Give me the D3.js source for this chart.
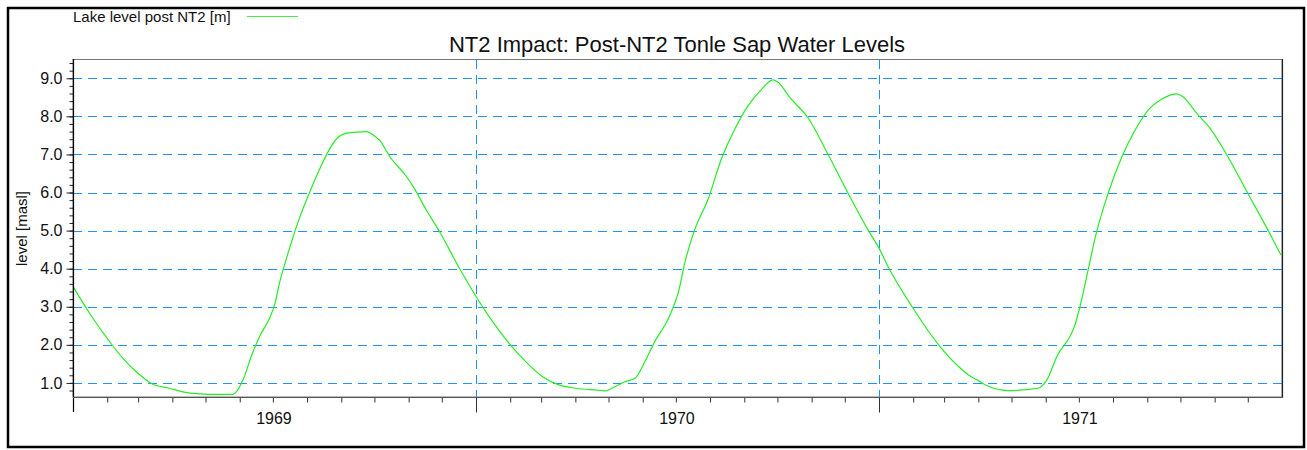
<!DOCTYPE html>
<html>
<head>
<meta charset="utf-8">
<script src="https://cdn.jsdelivr.net/npm/d3@7"></script>
<style>
  html, body { margin: 0; padding: 0; background: #fff; }
  svg { display: block; font-family: Arial, "Liberation Sans", sans-serif; }
</style>
</head>
<body>
<svg id="chart" width="1307" height="450"></svg>
<script>
// Tonle Sap lake level after NT2, sampled along the hydrograph
const dates = [
  "1969-01-01","1969-01-16","1969-02-03","1969-02-15","1969-02-27","1969-03-14","1969-03-29",
  "1969-04-17","1969-05-05","1969-05-26","1969-05-29","1969-06-04","1969-06-12","1969-06-19",
  "1969-06-28","1969-07-03","1969-07-07","1969-07-12","1969-07-18","1969-07-25","1969-08-03",
  "1969-08-12","1969-08-21","1969-08-29","1969-09-06","1969-09-24","1969-09-30","1969-10-06",
  "1969-10-15","1969-10-30","1969-11-05","1969-11-17","1969-11-29","1969-12-17","1970-01-01",
  "1970-01-16","1970-01-31","1970-02-15","1970-03-02","1970-03-17","1970-04-01","1970-04-25",
  "1970-04-28","1970-05-04","1970-05-16","1970-05-25","1970-06-03","1970-06-12","1970-06-24",
  "1970-06-30","1970-07-03","1970-07-09","1970-07-18","1970-07-30","1970-08-11","1970-08-23",
  "1970-09-04","1970-09-16","1970-09-27","1970-10-01","1970-10-13","1970-10-29","1970-11-16",
  "1970-12-04","1970-12-22","1971-01-01","1971-01-10","1971-01-31","1971-02-24","1971-03-14",
  "1971-03-23","1971-04-01","1971-04-07","1971-04-28","1971-05-25","1971-06-02","1971-06-11",
  "1971-06-28","1971-07-02","1971-07-10","1971-07-16","1971-07-28","1971-08-09","1971-08-21",
  "1971-09-02","1971-09-14","1971-09-28","1971-10-02","1971-10-17","1971-10-29","1971-11-13",
  "1971-12-01","1971-12-16","1971-12-31"
];
const levels = [
  3.53, 2.83, 2.09, 1.65, 1.30, 0.97, 0.86,
  0.73, 0.70, 0.70, 0.77, 1.08, 1.74, 2.22,
  2.70, 3.09, 3.62, 4.14, 4.71, 5.32, 5.98,
  6.59, 7.12, 7.45, 7.56, 7.60, 7.51, 7.36,
  6.94, 6.42, 6.16, 5.54, 4.97, 4.01, 3.27,
  2.61, 2.04, 1.56, 1.17, 0.95, 0.86, 0.80,
  0.79, 0.86, 1.03, 1.12, 1.56, 2.09, 2.67,
  3.09, 3.35, 4.14, 5.02, 5.81, 6.86, 7.64,
  8.26, 8.69, 8.96, 8.91, 8.47, 7.95, 6.99,
  5.98, 5.02, 4.54, 4.01, 3.00, 2.00, 1.43,
  1.21, 1.06, 0.95, 0.80, 0.86, 1.08, 1.69,
  2.57, 3.00, 4.05, 4.84, 6.02, 6.94, 7.64,
  8.17, 8.45, 8.59, 8.54, 8.04, 7.64, 6.94,
  5.98, 5.19, 4.36
];
const yearLabels = ["1969", "1970", "1971"];
const yTickValues = [1, 2, 3, 4, 5, 6, 7, 8, 9];

const title = "NT2 Impact: Post-NT2 Tonle Sap Water Levels";
const seriesName = "Lake level post NT2 [m]";
const yTitle = "level [masl]";

const parseDate = d3.utcParse("%Y-%m-%d");
const series = dates.map((d, i) => ({ date: parseDate(d), value: levels[i] }));

const svg = d3.select("#chart");
const plot = { left: 73, top: 60, right: 1282, bottom: 397 };
const fontFamily = "Arial, 'Liberation Sans', sans-serif";

const x = d3.scaleUtc()
  .domain([Date.UTC(1969, 0, 1), Date.UTC(1972, 0, 1)])
  .range([plot.left, plot.right]);
const y = d3.scaleLinear()
  .domain([0.63, 9.48])
  .range([plot.bottom, plot.top]);

const gridBlue = "#1e90ff";

// outer frame
svg.append("rect")
  .attr("x", 8).attr("y", 8)
  .attr("width", 1296).attr("height", 439)
  .attr("fill", "none").attr("stroke", "#000").attr("stroke-width", 2.5);

// legend
svg.append("text")
  .attr("x", 73).attr("y", 22)
  .attr("font-size", 15).attr("fill", "#111")
  .text(seriesName);
svg.append("line")
  .attr("x1", 247).attr("x2", 298).attr("y1", 16.5).attr("y2", 16.5)
  .attr("stroke", "#44ee44").attr("stroke-width", 1.2);

// title
svg.append("text")
  .attr("x", 677).attr("y", 52)
  .attr("text-anchor", "middle").attr("font-size", 22).attr("fill", "#111")
  .text(title);

// plot border (top in grey)
svg.append("rect")
  .attr("x", plot.left).attr("y", plot.top - 0.5)
  .attr("width", plot.right - plot.left).attr("height", plot.bottom - plot.top + 0.5)
  .attr("fill", "#fff").attr("stroke", "#777").attr("stroke-width", 1);

// horizontal gridlines
svg.append("g").attr("shape-rendering", "crispEdges").selectAll("line")
  .data(yTickValues)
  .join("line")
  .attr("x1", plot.left).attr("x2", plot.right)
  .attr("y1", d => Math.round(y(d)) + 0.5).attr("y2", d => Math.round(y(d)) + 0.5)
  .attr("stroke", gridBlue).attr("stroke-width", 1)
  .attr("stroke-dasharray", "9,6");

// vertical gridlines at year boundaries
const yearStarts = [Date.UTC(1970, 0, 1), Date.UTC(1971, 0, 1)];
svg.append("g").attr("shape-rendering", "crispEdges").selectAll("line")
  .data(yearStarts)
  .join("line")
  .attr("x1", d => Math.round(x(d)) + 0.5).attr("x2", d => Math.round(x(d)) + 0.5)
  .attr("y1", plot.top).attr("y2", plot.bottom)
  .attr("stroke", gridBlue).attr("stroke-width", 1)
  .attr("stroke-dasharray", "9,6");

// level line
const line = d3.line()
  .x(d => x(d.date))
  .y(d => y(d.value))
  .curve(d3.curveMonotoneX);
svg.append("path")
  .datum(series)
  .attr("d", line)
  .attr("fill", "none")
  .attr("stroke", "#22ee22")
  .attr("stroke-width", 1.2);

// right border over the data
svg.append("line")
  .attr("x1", plot.right + 0.5).attr("x2", plot.right + 0.5)
  .attr("y1", plot.top - 1).attr("y2", plot.bottom + 1)
  .attr("stroke", "#222").attr("stroke-width", 1.2);

// y axis: minor ticks every 0.2, labelled major ticks every 1.0
const yMinor = d3.range(0.8, 9.5, 0.2).filter(v => v >= y.domain()[0] && v <= y.domain()[1]);
const yAxisMinor = d3.axisLeft(y).tickValues(yMinor).tickSize(4).tickFormat("");
const yAxisMajor = d3.axisLeft(y).tickValues(yTickValues).tickSize(7).tickPadding(4)
  .tickFormat(d3.format(".1f"));
const gyMinor = svg.append("g").attr("transform", `translate(${plot.left + 0.5},0)`).call(yAxisMinor);
const gyMajor = svg.append("g").attr("transform", `translate(${plot.left + 0.5},0)`).call(yAxisMajor);
[gyMinor, gyMajor].forEach(g => {
  g.attr("font-family", fontFamily);
  g.select(".domain").remove();
  g.selectAll(".tick line").attr("stroke", "#222");
});
gyMajor.attr("font-size", 16);
gyMajor.selectAll(".tick text").attr("fill", "#111");
svg.append("line")
  .attr("x1", plot.left + 0.5).attr("x2", plot.left + 0.5)
  .attr("y1", plot.top - 1).attr("y2", plot.bottom + 15)
  .attr("stroke", "#000").attr("stroke-width", 1.2);

// x axis: monthly minor ticks, longer ticks at year boundaries
const monthTicks = d3.utcMonth.range(Date.UTC(1969, 1, 1), Date.UTC(1972, 0, 1))
  .filter(d => d.getUTCMonth() !== 0);
const xAxisMinor = d3.axisBottom(x).tickValues(monthTicks).tickSize(5).tickFormat("");
const xAxisMajor = d3.axisBottom(x).tickValues(yearStarts).tickSize(15).tickFormat("");
const gxMinor = svg.append("g").attr("transform", `translate(0,${plot.bottom + 0.5})`).call(xAxisMinor);
const gxMajor = svg.append("g").attr("transform", `translate(0,${plot.bottom + 0.5})`).call(xAxisMajor);
[gxMinor, gxMajor].forEach(g => {
  g.select(".domain").remove();
  g.selectAll(".tick line").attr("stroke", "#333");
});
svg.append("line")
  .attr("x1", plot.left).attr("x2", plot.right + 1)
  .attr("y1", plot.bottom + 0.5).attr("y2", plot.bottom + 0.5)
  .attr("stroke", "#555").attr("stroke-width", 1.2);

// year labels centred within each year
svg.append("g").selectAll("text")
  .data(yearLabels)
  .join("text")
  .attr("x", d => x(Date.UTC(+d, 6, 2)))
  .attr("y", 424)
  .attr("text-anchor", "middle")
  .attr("font-size", 16).attr("fill", "#111")
  .text(d => d);

// y axis title
svg.append("text")
  .attr("transform", `translate(27,${(plot.top + plot.bottom) / 2}) rotate(-90)`)
  .attr("text-anchor", "middle")
  .attr("font-size", 15).attr("fill", "#111")
  .text(yTitle);
</script>
</body>
</html>
